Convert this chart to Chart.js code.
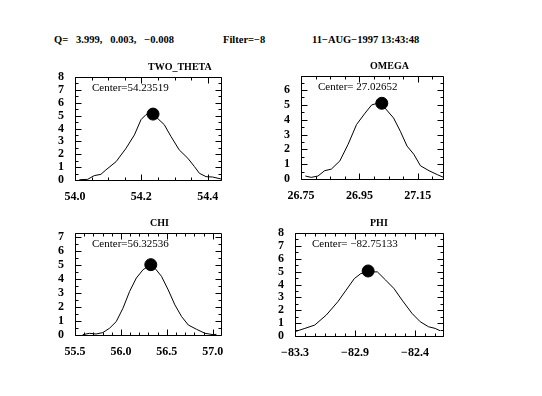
<!DOCTYPE html>
<html>
<head>
<meta charset="utf-8">
<script src="https://cdn.jsdelivr.net/npm/chart.js@4/dist/chart.umd.min.js"></script>
<style>
  body { margin: 0; background: #fff; }
  #page { position: relative; width: 542px; height: 396px; overflow: hidden; }
  canvas { position: absolute; left: 0; top: 0; }
  .hdr { position: absolute; top: 34px; font: bold 10.5px "Liberation Serif", serif; color: #000; white-space: pre; }
</style>
</head>
<body>
<div id="page">
  <span class="hdr" style="left:54px">Q=   3.999,   0.003,   −0.008</span>
  <span class="hdr" style="left:223px">Filter=−8</span>
  <span class="hdr" style="left:312px">11−AUG−1997 13:43:48</span>
  <canvas id="c1" width="542" height="396"></canvas>
  <canvas id="c2" width="542" height="396"></canvas>
  <canvas id="c3" width="542" height="396"></canvas>
  <canvas id="c4" width="542" height="396"></canvas>
</div>
<script>
// TWO_THETA scan
const ttX = [54.013, 54.038, 54.058, 54.078, 54.093, 54.124, 54.154, 54.179, 54.199, 54.214, 54.229, 54.244, 54.269, 54.289, 54.314, 54.34, 54.36, 54.375, 54.395, 54.415, 54.44];
const ttY = [0.02, 0.05, 0.34, 0.44, 0.78, 1.43, 2.47, 3.5, 4.69, 5.08, 5.1, 4.9, 4.3, 3.39, 2.34, 1.69, 1.04, 0.52, 0.26, 0.23, 0.08];
const ttCenter = [54.23519, 5.12];
const ttTicks = [54.0, 54.2, 54.4];
const ttTickLabels = ['54.0', '54.2', '54.4'];

// OMEGA scan
const omX = [26.765, 26.785, 26.808, 26.831, 26.854, 26.883, 26.911, 26.94, 26.969, 26.992, 27.012, 27.033, 27.067, 27.09, 27.113, 27.136, 27.159, 27.188, 27.217, 27.238];
const omY = [0.2, 0.11, 0.2, 0.56, 0.67, 1.22, 2.33, 3.67, 4.44, 5.0, 5.11, 4.89, 4.11, 3.22, 2.22, 1.67, 0.89, 0.56, 0.29, 0.11];
const omCenter = [27.02652, 5.11];
const omTicks = [26.75, 26.95, 27.15];
const omTickLabels = ['26.75', '26.95', '27.15'];

// CHI scan
const chiX = [55.584, 55.657, 55.73, 55.803, 55.876, 55.949, 56.022, 56.095, 56.168, 56.241, 56.296, 56.369, 56.442, 56.515, 56.588, 56.661, 56.734, 56.825, 56.916, 57.007, 57.04];
const chiY = [0.02, 0.12, 0.07, 0.17, 0.48, 0.95, 1.9, 3.1, 4.05, 4.64, 4.88, 4.76, 4.17, 3.21, 2.14, 1.31, 0.71, 0.4, 0.12, 0.02, 0.05];
const chiCenter = [56.32536, 5.0];
const chiTicks = [55.5, 56.0, 56.5, 57.0];
const chiTickLabels = ['55.5', '56.0', '56.5', '57.0'];

// PHI scan
const phiX = [-83.3, -83.226, -83.152, -83.065, -82.979, -82.917, -82.855, -82.806, -82.749, -82.682, -82.62, -82.558, -82.497, -82.422, -82.361, -82.299, -82.249, -82.212];
const phiY = [0.34, 0.59, 0.85, 1.63, 2.66, 3.56, 4.46, 4.85, 4.98, 4.98, 4.34, 3.69, 2.79, 1.75, 1.11, 0.72, 0.59, 0.41];
const phiCenter = [-82.75133, 5.05];
const phiTicks = [-83.3, -82.85, -82.4];
const phiTickLabels = ['−83.3', '−82.9', '−82.4'];

const W = 542, H = 396;
const Y_W = 30, X_H = 22;

// box + inward ticks, title and center label
function framePlugin(p) {
  return {
    id: 'frame',
    afterDatasetsDraw(chart) {
      const { ctx, chartArea: a } = chart;
      const x = chart.scales.x, y = chart.scales.y;
      const L = Math.round(a.left) + 0.5, R = Math.round(a.right) + 0.5;
      const T = Math.round(a.top) + 0.5, B = Math.round(a.bottom) + 0.5;
      ctx.save();
      ctx.strokeStyle = '#000';
      ctx.lineWidth = 1;
      ctx.beginPath();
      ctx.rect(L, T, R - L, B - T);
      const xt = (v, len) => {
        const px = Math.round(x.getPixelForValue(v)) + 0.5;
        ctx.moveTo(px, B); ctx.lineTo(px, B - len);
        ctx.moveTo(px, T); ctx.lineTo(px, T + len);
      };
      const yt = (v, len) => {
        const py = Math.round(y.getPixelForValue(v)) + 0.5;
        ctx.moveTo(L, py); ctx.lineTo(L + len, py);
        ctx.moveTo(R, py); ctx.lineTo(R - len, py);
      };
      for (let v = p.min; v <= p.max + 1e-9; v += p.minor) xt(v, 3);
      p.ticks.forEach(v => xt(v, 6));
      for (let v = 0; v <= p.ymax + 1e-9; v += 0.5) yt(v, Number.isInteger(v) ? 6 : 3);
      ctx.stroke();
      ctx.fillStyle = '#000';
      ctx.textBaseline = 'middle';
      ctx.font = 'bold 10px "Liberation Serif", serif';
      ctx.fillText(p.title, p.titleX, a.top - 10);
      ctx.font = '11px "Liberation Serif", serif';
      ctx.fillText(p.centerText, a.left + 17, a.top + 11);
      ctx.restore();
    }
  };
}

function makePanel(id, p) {
  const [cl, ct, cr, cb] = p.area;
  return new Chart(document.getElementById(id), {
    type: 'scatter',
    data: {
      datasets: [
        {
          data: p.xs.map((v, i) => ({ x: v, y: p.ys[i] })),
          showLine: true,
          borderColor: '#000',
          borderWidth: 1,
          pointRadius: 0,
          tension: 0
        },
        {
          data: [{ x: p.center[0], y: p.center[1] }],
          pointRadius: 6,
          backgroundColor: '#000',
          borderColor: '#000'
        }
      ]
    },
    options: {
      responsive: false,
      animation: false,
      events: [],
      layout: { padding: { left: cl - Y_W, right: W - cr, top: ct, bottom: H - cb - X_H } },
      plugins: { legend: { display: false }, tooltip: { enabled: false } },
      scales: {
        x: {
          type: 'linear', min: p.min, max: p.max,
          grid: { display: false }, border: { display: false },
          afterBuildTicks: s => { s.ticks = p.ticks.map(v => ({ value: v })); },
          afterFit: s => { s.height = X_H; },
          ticks: {
            padding: 2, color: '#000', maxRotation: 0, autoSkip: false,
            font: { family: '"Liberation Serif", serif', size: 12, weight: 'bold' },
            callback: (v, i) => p.tickLabels[i]
          }
        },
        y: {
          type: 'linear', min: 0, max: p.ymax,
          grid: { display: false }, border: { display: false },
          afterBuildTicks: s => {
            const t = [];
            for (let v = 0; v <= Math.floor(p.ymax); v++) t.push({ value: v });
            s.ticks = t;
          },
          afterFit: s => { s.width = Y_W; },
          ticks: {
            padding: 3, color: '#000', autoSkip: false,
            font: { family: '"Liberation Serif", serif', size: 12, weight: 'bold' },
            callback: v => String(v)
          }
        }
      }
    },
    plugins: [framePlugin(p)]
  });
}

makePanel('c1', {
  xs: ttX, ys: ttY, center: ttCenter, ticks: ttTicks, tickLabels: ttTickLabels,
  min: 54.0, max: 54.44, minor: 0.05, ymax: 8,
  area: [75, 77, 221, 180], title: 'TWO_THETA', titleX: 148, centerText: 'Center=54.23519'
});
makePanel('c2', {
  xs: omX, ys: omY, center: omCenter, ticks: omTicks, tickLabels: omTickLabels,
  min: 26.75, max: 27.236, minor: 0.05, ymax: 6.95,
  area: [301, 76, 443, 179], title: 'OMEGA', titleX: 370, centerText: 'Center= 27.02652'
});
makePanel('c3', {
  xs: chiX, ys: chiY, center: chiCenter, ticks: chiTicks, tickLabels: chiTickLabels,
  min: 55.5, max: 57.09, minor: 0.1, ymax: 7.25,
  area: [75, 233, 221, 335], title: 'CHI', titleX: 150, centerText: 'Center=56.32536'
});
makePanel('c4', {
  xs: phiX, ys: phiY, center: phiCenter, ticks: phiTicks, tickLabels: phiTickLabels,
  min: -83.3, max: -82.19, minor: 0.075, ymax: 8,
  area: [295, 233, 443, 336], title: 'PHI', titleX: 370, centerText: 'Center= −82.75133'
});
</script>
</body>
</html>
